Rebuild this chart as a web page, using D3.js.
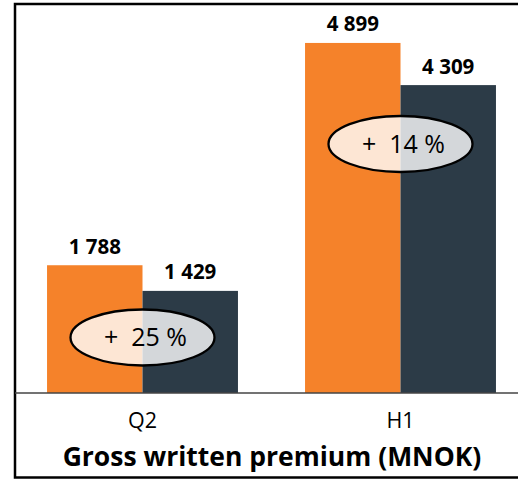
<!DOCTYPE html>
<html>
<head>
<meta charset="utf-8">
<script src="https://cdn.jsdelivr.net/npm/d3@7"></script>
<style>
  body { margin: 0; background: #fff; }
  text { font-family: "Open Sans", sans-serif; }
</style>
</head>
<body>
<div id="chart"></div>
<script>
var categories = ['Q2', 'H1'];
var series = ['current', 'previous'];
var currentValues = [1788, 4899];
var previousValues = [1429, 4309];
var valueLabels = [['1 788', '1 429'], ['4 899', '4 309']];
var growthLabels = ['+  25 %', '+  14 %'];
// where the growth bubble sits, in data units
var growthAnchor = [777, 3485];
var title = 'Gross written premium (MNOK)';

var colors = { current: '#f5822a', previous: '#2c3b47' };

var width = 518, height = 479;
var baseline = 393;

var svg = d3.select('#chart').append('svg')
    .attr('width', width)
    .attr('height', height);

// frame
svg.append('rect')
    .attr('x', 15).attr('y', 4)
    .attr('width', 530).attr('height', 473.5)
    .attr('fill', 'none')
    .attr('stroke', '#000')
    .attr('stroke-width', 2.5);

var x = d3.scaleBand()
    .domain(categories)
    .range([13.5, 529.5])
    .paddingInner(0.26)
    .paddingOuter(0.13);

var xs = d3.scaleBand()
    .domain(series)
    .range([0, x.bandwidth()]);

var y = d3.scaleLinear()
    .domain([0, 5500])
    .range([baseline, 0]);

var data = categories.map(function (c, i) {
    return {
        cat: c,
        bars: [
            { key: 'current', value: currentValues[i], label: valueLabels[i][0] },
            { key: 'previous', value: previousValues[i], label: valueLabels[i][1] }
        ],
        growth: growthLabels[i],
        anchor: growthAnchor[i]
    };
});

var groups = svg.selectAll('.group')
    .data(data)
    .enter().append('g')
    .attr('class', 'group')
    .attr('transform', function (d) { return 'translate(' + x(d.cat) + ',0)'; });

groups.selectAll('rect')
    .data(function (d) { return d.bars; })
    .enter().append('rect')
    .attr('x', function (d) { return xs(d.key); })
    .attr('width', xs.bandwidth())
    .attr('y', function (d) { return y(d.value); })
    .attr('height', function (d) { return baseline - y(d.value); })
    .attr('fill', function (d) { return colors[d.key]; });

groups.selectAll('.val')
    .data(function (d) { return d.bars; })
    .enter().append('text')
    .attr('class', 'val')
    .attr('x', function (d) { return xs(d.key) + xs.bandwidth() / 2; })
    .attr('y', function (d) { return y(d.value) - 11.5; })
    .attr('text-anchor', 'middle')
    .style('font-size', '20.5px')
    .style('font-weight', 'bold')
    .text(function (d) { return d.label; });

// growth bubbles
groups.append('ellipse')
    .attr('cx', x.bandwidth() / 2)
    .attr('cy', function (d) { return y(d.anchor); })
    .attr('rx', 72)
    .attr('ry', 28)
    .attr('fill', '#fff')
    .attr('fill-opacity', 0.8)
    .attr('stroke', '#000')
    .attr('stroke-width', 2.3);

groups.append('text')
    .attr('x', x.bandwidth() / 2 + 3)
    .attr('y', function (d) { return y(d.anchor) + 9; })
    .attr('text-anchor', 'middle')
    .style('font-size', '25px')
    .style('white-space', 'pre')
    .text(function (d) { return d.growth; });

// x axis
var axis = svg.append('g')
    .attr('transform', 'translate(0,' + baseline + ')')
    .call(d3.axisBottom(x).tickSize(0).tickPadding(20));
axis.select('.domain')
    .attr('d', 'M15,0H' + width)
    .attr('stroke', '#444')
    .attr('stroke-width', 1.5);
axis.selectAll('text')
    .style('font-family', '"Open Sans", sans-serif')
    .style('font-size', '21.5px')
    .attr('fill', '#000');

svg.append('text')
    .attr('x', 272)
    .attr('y', 466)
    .attr('text-anchor', 'middle')
    .style('font-size', '26.5px')
    .style('font-weight', 'bold')
    .text(title);
</script>
</body>
</html>
